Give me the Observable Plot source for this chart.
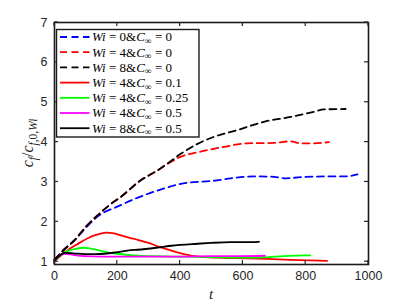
<!DOCTYPE html>
<html><head><meta charset="utf-8">
<script src="https://cdn.jsdelivr.net/npm/d3@7"></script>
<script src="https://cdn.jsdelivr.net/npm/@observablehq/plot@0.6"></script>
<style>
html,body{margin:0;padding:0;background:#fff;}
#chart{position:relative;width:407px;height:305px;}
</style></head><body><div id="chart"></div>
<script>
// ---- data ----
const legendWi = ["0", "4", "8", "4", "4", "4", "8"];
const legendC = ["0", "0", "0", "0.1", "0.25", "0.5", "0.5"];
const seriesColors = ["#0000ff", "#ff0000", "#000000", "#ff0000", "#00ff00", "#ff00ff", "#000000"];
const seriesDashed = [true, true, true, false, false, false, false];

const tWi0C0 = [0, 30, 64, 100, 140, 200, 276, 330, 414, 507, 561, 635, 699, 736, 784, 879, 927, 965];
const vWi0C0 = [1.05, 1.3, 1.54, 1.85, 2.15, 2.38, 2.64, 2.79, 2.97, 3.03, 3.09, 3.14, 3.13, 3.09, 3.12, 3.14, 3.14, 3.19];

const tWi4C0 = [0, 30, 64, 100, 138, 175, 212, 276, 322, 370, 401, 465, 539, 614, 699, 752, 784, 826, 874];
const vWi4C0 = [1.05, 1.3, 1.54, 1.88, 2.17, 2.42, 2.63, 3.05, 3.26, 3.5, 3.63, 3.76, 3.88, 3.97, 3.98, 4.02, 3.97, 3.97, 4.0];

const tWi8C0 = [0, 30, 64, 100, 138, 175, 212, 276, 322, 370, 401, 454, 507, 582, 667, 752, 826, 858, 927];
const vWi8C0 = [1.05, 1.3, 1.54, 1.88, 2.17, 2.42, 2.63, 3.05, 3.26, 3.52, 3.7, 3.95, 4.13, 4.3, 4.51, 4.63, 4.76, 4.82, 4.83];

const tWi4C01 = [0, 20, 42, 75, 106, 135, 164, 190, 212, 240, 265, 300, 334, 372, 412, 465, 520, 571, 677, 780, 868];
const vWi4C01 = [1.02, 1.15, 1.29, 1.45, 1.59, 1.68, 1.73, 1.71, 1.66, 1.6, 1.55, 1.47, 1.37, 1.28, 1.19, 1.12, 1.1, 1.09, 1.07, 1.04, 1.02];

const tWi4C025 = [0, 20, 42, 70, 93, 115, 138, 165, 200, 265, 306, 372, 465, 518, 603, 667, 730, 794, 815];
const vWi4C025 = [1.02, 1.17, 1.27, 1.33, 1.35, 1.33, 1.29, 1.24, 1.2, 1.15, 1.14, 1.13, 1.12, 1.11, 1.1, 1.11, 1.14, 1.16, 1.16];

const tWi4C05 = [0, 15, 32, 60, 93, 150, 250, 400, 500, 600, 670];
const vWi4C05 = [1.02, 1.15, 1.2, 1.17, 1.14, 1.13, 1.13, 1.13, 1.14, 1.14, 1.15];

const tWi8C05 = [0, 15, 32, 60, 96, 130, 159, 200, 242, 265, 334, 372, 455, 497, 560, 600, 651];
const vWi8C05 = [1.03, 1.15, 1.22, 1.21, 1.19, 1.19, 1.2, 1.24, 1.29, 1.3, 1.36, 1.4, 1.45, 1.47, 1.49, 1.49, 1.5];

const xTicks = [0, 200, 400, 600, 800, 1000];
const yTicks = [1, 2, 3, 4, 5, 6, 7];

const seriesT = [tWi0C0, tWi4C0, tWi8C0, tWi4C01, tWi4C025, tWi4C05, tWi8C05];
const seriesV = [vWi0C0, vWi4C0, vWi8C0, vWi4C01, vWi4C025, vWi4C05, vWi8C05];

// ---- build ----
const axisColor = "#262626";
const lineMarks = seriesT.map((ts, i) => Plot.line(ts.map((t, j) => ({t, v: seriesV[i][j]})), {
  x: "t", y: "v", stroke: seriesColors[i], strokeWidth: 1.8,
  strokeDasharray: seriesDashed[i] ? "7,4.5" : null, curve: "monotone-x"
}));

const chart = Plot.plot({
  width: 407, height: 305,
  marginLeft: 54, marginRight: 39, marginTop: 22, marginBottom: 41,
  style: {fontFamily: "'Liberation Sans', Arial, sans-serif", fontSize: "12.5px", color: axisColor, background: "#fff"},
  x: {domain: [0, 1000]},
  y: {domain: [0.93, 7]},
  marks: [
    ...lineMarks,
    Plot.frame({stroke: "#1a1a1a", strokeWidth: 1.6}),
    Plot.axisX(xTicks, {anchor: "bottom", tickSize: 0, tickPadding: 7, label: null, tickFormat: d => String(d)}),
    Plot.axisY(yTicks, {anchor: "left", tickSize: 0, tickPadding: 7, label: null})
  ]
});
document.getElementById("chart").appendChild(chart);

const svg = d3.select(chart);
const sx = chart.scale("x"), sy = chart.scale("y");
const L = Math.min(...sx.range), R = Math.max(...sx.range), T = Math.min(...sy.range), B = Math.max(...sy.range);

// inward ticks on all four sides (MATLAB style)
const ax = svg.append("g").attr("stroke", axisColor).attr("stroke-width", 1.2).attr("fill", "none");
const tk = 4;
xTicks.forEach(v => {
  const x = sx.apply(v);
  ax.append("line").attr("x1", x).attr("x2", x).attr("y1", B).attr("y2", B - tk);
  ax.append("line").attr("x1", x).attr("x2", x).attr("y1", T).attr("y2", T + tk);
});
yTicks.forEach(v => {
  const y = sy.apply(v);
  ax.append("line").attr("x1", L).attr("x2", L + tk).attr("y1", y).attr("y2", y);
  ax.append("line").attr("x1", R).attr("x2", R - tk).attr("y1", y).attr("y2", y);
});

const serif = "'Liberation Serif', 'DejaVu Serif', serif";
const fs = 13;

// axis labels
const ylab = svg.append("text")
  .attr("transform", `translate(33,${(T + B) / 2}) rotate(-90)`)
  .attr("text-anchor", "middle").attr("font-family", serif).attr("font-size", 16)
  .attr("fill", axisColor).style("white-space", "pre");
ylab.append("tspan").attr("font-style", "italic").text("c");
ylab.append("tspan").attr("font-style", "italic").attr("font-size", 11.5).attr("dy", 3.5).text("f");
ylab.append("tspan").attr("dy", -3.5).text("/");
ylab.append("tspan").attr("font-style", "italic").text("c");
ylab.append("tspan").attr("font-style", "italic").attr("font-size", 11.5).attr("dy", 3.5).text("f,");
ylab.append("tspan").attr("font-size", 11.5).text("0,");
ylab.append("tspan").attr("font-style", "italic").attr("font-size", 11.5).text("Wi");

svg.append("text").attr("x", (L + R) / 2).attr("y", 299).attr("text-anchor", "middle")
  .attr("font-family", serif).attr("font-style", "italic").attr("font-size", 15)
  .attr("fill", axisColor).text("t");

// legend
const lg = svg.append("g");
lg.append("rect").attr("x", 56.5).attr("y", 29.5).attr("width", 142.5).attr("height", 107.5)
  .attr("fill", "#fff").attr("stroke", "#1a1a1a").attr("stroke-width", 1.4);
legendWi.forEach((wi, i) => {
  const y = 37 + i * 15.2;
  lg.append("line").attr("x1", 60).attr("x2", 89.5).attr("y1", y).attr("y2", y)
    .attr("stroke", seriesColors[i]).attr("stroke-width", 1.8)
    .attr("stroke-dasharray", seriesDashed[i] ? "7,4.5" : null);
  const tx = lg.append("text").attr("x", 92).attr("y", y + 4.4).attr("text-anchor", "start")
    .attr("font-family", serif).attr("font-size", fs).attr("fill", "#000").style("white-space", "pre");
  tx.append("tspan").attr("font-style", "italic").text("Wi");
  tx.append("tspan").text(` = ${wi}&`);
  tx.append("tspan").attr("font-style", "italic").text("C");
  tx.append("tspan").attr("font-size", 9.5).attr("dy", 2.5).text("∞");
  tx.append("tspan").attr("dy", -2.5).text(` = ${legendC[i]}`);
});
</script>
</body></html>
